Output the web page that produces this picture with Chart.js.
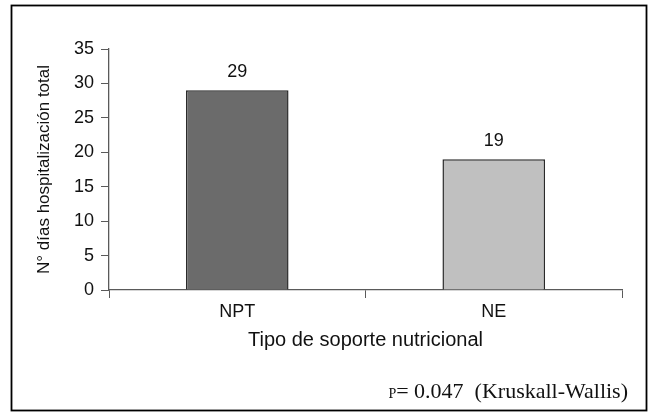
<!DOCTYPE html>
<html>
<head>
<meta charset="utf-8">
<script src="https://cdn.jsdelivr.net/npm/chart.js@4"></script>
<style>
  html, body { margin: 0; padding: 0; background: #fff; }
  #wrap { width: 651px; height: 416px; }
</style>
</head>
<body>
<div id="wrap"><canvas id="chart" width="651" height="416"></canvas></div>
<script>
// data
const categories = ['NPT', 'NE'];
const dayValues = [29, 19];
const barColors = ['#6b6b6b', '#c0c0c0'];
const yTicks = [0, 5, 10, 15, 20, 25, 30, 35];

const axisColor = '#5a5a5a';
const textColor = '#111111';
const sansFont = "'Liberation Sans', Arial, sans-serif";
const serifFont = "'Liberation Serif', 'Times New Roman', serif";

// frame around the figure plus the p-value note
const framePlugin = {
    id: 'frame',
    afterDraw(chart) {
        const ctx = chart.ctx;
        ctx.save();
        ctx.strokeStyle = '#000';
        ctx.lineWidth = 1.8;
        ctx.strokeRect(11.5, 5.5, 635, 405);

        // "P= 0.047 (Kruskall-Wallis)" with a small-cap P
        const rest = '= 0.047  (Kruskall-Wallis)';
        ctx.fillStyle = textColor;
        ctx.textBaseline = 'alphabetic';
        ctx.font = '22px ' + serifFont;
        const restW = ctx.measureText(rest).width;
        const right = 628;
        const baseY = 398;
        ctx.textAlign = 'left';
        ctx.fillText(rest, right - restW, baseY);
        ctx.font = '14px ' + serifFont;
        const pW = ctx.measureText('P').width;
        ctx.fillText('P', right - restW - pW, baseY);
        ctx.restore();
    }
};

// value labels over the bars
const valueLabels = {
    id: 'valueLabels',
    afterDatasetsDraw(chart) {
        const ctx = chart.ctx;
        const meta = chart.getDatasetMeta(0);
        ctx.save();
        ctx.font = '18px ' + sansFont;
        ctx.fillStyle = textColor;
        ctx.textAlign = 'center';
        ctx.textBaseline = 'middle';
        meta.data.forEach((bar, i) => {
            ctx.fillText(String(dayValues[i]), bar.x, bar.y - 18);
        });
        ctx.restore();
    }
};

new Chart(document.getElementById('chart'), {
    type: 'bar',
    data: {
        labels: categories,
        datasets: [{
            data: dayValues,
            backgroundColor: barColors,
            borderColor: '#2a2a2a',
            borderWidth: 1.5,
            barPercentage: 0.4,
            categoryPercentage: 1.0
        }]
    },
    options: {
        responsive: false,
        animation: false,
        layout: { padding: { left: 0, top: 49, right: 29, bottom: 0 } },
        plugins: {
            legend: { display: false },
            tooltip: { enabled: false }
        },
        scales: {
            x: {
                afterFit: (s) => { s.height = 126; },
                grid: {
                    offset: true,
                    drawOnChartArea: false,
                    drawTicks: true,
                    tickLength: 8,
                    color: axisColor
                },
                border: { color: axisColor, width: 1.3 },
                ticks: {
                    padding: 3,
                    color: textColor,
                    font: { family: sansFont, size: 18 }
                },
                title: {
                    display: true,
                    text: 'Tipo de soporte nutricional',
                    color: textColor,
                    font: { family: sansFont, size: 20 },
                    padding: { top: 0, bottom: 64 }
                }
            },
            y: {
                min: 0,
                max: 35,
                afterFit: (s) => { s.width = 109; },
                afterBuildTicks: (s) => { s.ticks = yTicks.map(v => ({ value: v })); },
                grid: {
                    drawOnChartArea: false,
                    drawTicks: true,
                    tickLength: 8,
                    color: axisColor
                },
                border: { color: axisColor, width: 1.3 },
                ticks: {
                    padding: 7,
                    color: textColor,
                    font: { family: sansFont, size: 18 }
                },
                title: {
                    display: true,
                    text: 'N° días hospitalización total',
                    color: textColor,
                    font: { family: sansFont, size: 17 },
                    padding: { top: 34, bottom: 0 }
                }
            }
        }
    },
    plugins: [framePlugin, valueLabels]
});
</script>
</body>
</html>
